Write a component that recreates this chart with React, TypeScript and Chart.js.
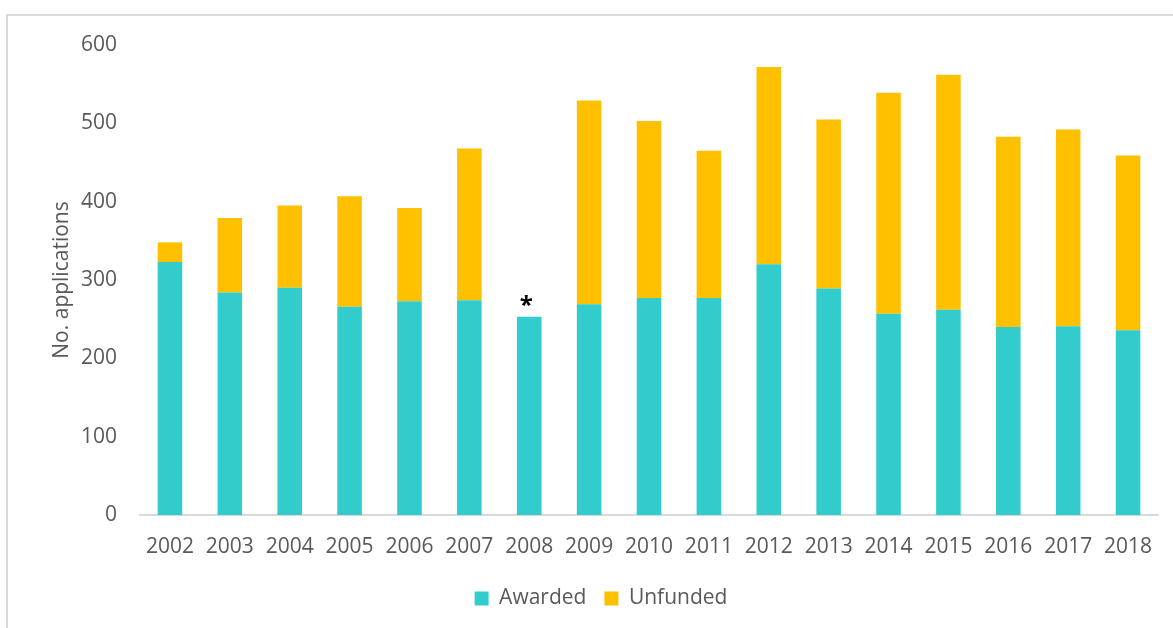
import React, { useEffect, useRef } from "react";
import { Chart, registerables } from "chart.js";

Chart.register(...registerables);

const categories = ["2002", "2003", "2004", "2005", "2006", "2007", "2008", "2009", "2010", "2011", "2012", "2013", "2014", "2015", "2016", "2017", "2018"];
const awarded = [323, 284, 290, 266, 273, 274, 253, 269, 277, 277, 320, 289, 257, 262, 240, 241, 236];
const unfunded = [25, 95, 105, 141, 119, 194, 0, 260, 226, 188, 252, 216, 282, 300, 243, 251, 223];
const seriesNames = ["Awarded", "Unfunded"];
const yTicks = [0, 100, 200, 300, 400, 500, 600];
const markers = [{ category: "2008", text: "*" }];

const FONT = '"Open Sans", sans-serif';
const TEXT = "#595959";

const markerPlugin = {
  id: "markers",
  afterDatasetsDraw(chart: any) {
    const ctx = chart.ctx;
    const last = chart.getDatasetMeta(chart.data.datasets.length - 1);
    markers.forEach((m) => {
      const i = categories.indexOf(m.category);
      if (i < 0) return;
      const el = last.data[i];
      ctx.save();
      ctx.font = "bold 24px " + FONT;
      ctx.fillStyle = "#000000";
      ctx.textAlign = "center";
      ctx.textBaseline = "alphabetic";
      ctx.fillText(m.text, el.x - 3, el.y - 4);
      ctx.restore();
    });
  },
};

export default function App() {
  const ref = useRef<HTMLCanvasElement | null>(null);
  useEffect(() => {
    if (!ref.current) return;
    const chart = new Chart(ref.current, {
      type: "bar",
      data: {
        labels: categories,
        datasets: [
          { label: seriesNames[0], data: awarded, backgroundColor: "#33CCCC", borderWidth: 0 },
          { label: seriesNames[1], data: unfunded, backgroundColor: "#FFC000", borderWidth: 0 },
        ],
      },
      options: {
        responsive: false,
        animation: false,
        devicePixelRatio: 1,
        layout: { padding: { left: 44, right: 15, top: 45, bottom: 9 } },
        datasets: { bar: { categoryPercentage: 1, barPercentage: 0.41 } },
        plugins: {
          legend: {
            position: "bottom",
            labels: {
              boxWidth: 14,
              boxHeight: 14,
              padding: 18,
              color: TEXT,
              font: { family: FONT, size: 21 },
            },
          },
          tooltip: { enabled: false },
        },
        scales: {
          x: {
            stacked: true,
            afterFit: (axis: any) => {
              axis.height = 55;
            },
            grid: { display: false, drawTicks: false },
            border: { display: true, color: "#D9D9D9", width: 2 },
            ticks: { color: TEXT, font: { family: FONT, size: 21 }, padding: 19, maxRotation: 0 },
          },
          y: {
            stacked: true,
            min: 0,
            max: 600,
            afterBuildTicks: (axis: any) => {
              axis.ticks = yTicks.map((v) => ({ value: v }));
            },
            afterFit: (axis: any) => {
              axis.width = 96;
            },
            grid: { display: false, drawTicks: false },
            border: { display: false },
            ticks: { color: TEXT, font: { family: FONT, size: 21 }, padding: 23 },
            title: {
              display: true,
              text: "No. applications",
              color: TEXT,
              font: { family: FONT, size: 21 },
              padding: { top: 5, bottom: 0 },
            },
          },
        },
      },
      plugins: [markerPlugin],
    });
    return () => chart.destroy();
  }, []);

  return (
    <div style={{ position: "fixed", left: 0, top: 0, width: 1173, height: 628, background: "#ffffff" }}>
      <div
        style={{
          position: "absolute",
          left: 6,
          top: 14,
          right: 0,
          bottom: 0,
          borderTop: "2px solid #D9D9D9",
          borderLeft: "2px solid #D9D9D9",
        }}
      />
      <canvas ref={ref} width={1173} height={628} style={{ position: "absolute", left: 0, top: 0 }} />
    </div>
  );
}
